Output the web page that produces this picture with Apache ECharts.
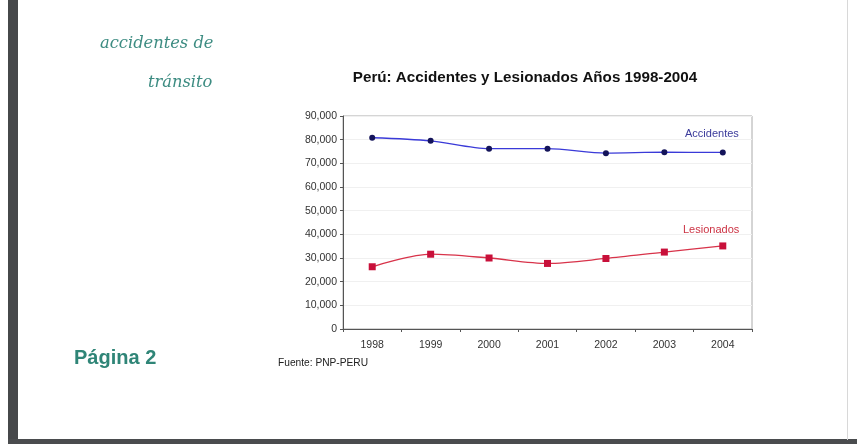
<!DOCTYPE html>
<html><head><meta charset="utf-8">
<script src="https://cdn.jsdelivr.net/npm/echarts@6/dist/echarts.min.js"></script>
<style>html,body{margin:0;padding:0;background:#fff}#c{width:857px;height:444px}</style>
</head><body><div id="c"></div>
<script>
const years = ['1998','1999','2000','2001','2002','2003','2004'];
const accidentes = [80800, 79500, 76200, 76200, 74300, 74700, 74600];
const lesionados = [26300, 31600, 30000, 27700, 29800, 32500, 35100];
const yTicks = {min: 0, max: 90000, interval: 10000};

const chart = echarts.init(document.getElementById('c'));
const F = '"Liberation Sans", Arial, sans-serif';
chart.setOption({
  animation: false,
  backgroundColor: '#ffffff',
  title: {
    text: 'Perú: Accidentes y Lesionados Años 1998-2004',
    left: 520, top: 65, textAlign: 'center',
    textStyle: {fontFamily: F, fontSize: 15.2, fontWeight: 'bold', color: '#111'}
  },
  grid: {left: 343, top: 116, right: 105, bottom: 115, show: true, borderColor: '#aaa', borderWidth: 1, backgroundColor: 'transparent'},
  xAxis: {
    type: 'category', data: years, boundaryGap: true,
    axisLine: {lineStyle: {color: '#555'}},
    axisTick: {show: true, lineStyle: {color: '#555'}, length: 3},
    axisLabel: {fontFamily: F, fontSize: 10.5, color: '#333', margin: 11},
    splitLine: {show: false}
  },
  yAxis: {
    type: 'value', min: yTicks.min, max: yTicks.max, interval: yTicks.interval,
    axisLine: {show: true, lineStyle: {color: '#555'}},
    axisTick: {show: true, lineStyle: {color: '#555'}, length: 3},
    axisLabel: {fontFamily: F, fontSize: 10.5, color: '#333', margin: 6,
      formatter: v => v.toLocaleString('en-US')},
    splitLine: {show: true, lineStyle: {color: '#f0f0f0'}}
  },
  series: [
    {name: 'Accidentes', type: 'line', data: accidentes, smooth: 0.3,
     symbol: 'circle', symbolSize: 6,
     lineStyle: {color: '#3a3ad8', width: 1.3},
     itemStyle: {color: '#14145a'}},
    {name: 'Lesionados', type: 'line', data: lesionados, smooth: 0.3,
     symbol: 'rect', symbolSize: 7,
     lineStyle: {color: '#d8334a', width: 1.3},
     itemStyle: {color: '#c8103a'}}
  ],
  graphic: [
    {type: 'rect', shape: {x: 8, y: 0, width: 10, height: 444}, style: {fill: '#46484a'}},
    {type: 'rect', shape: {x: 8, y: 439, width: 849, height: 5}, style: {fill: '#4a4c4e'}},
    {type: 'rect', shape: {x: 847, y: 0, width: 1, height: 440}, style: {fill: '#d8d8d8'}},
    {type: 'text', left: 100, top: 36, style: {text: 'accidentes de', font: 'italic 16.3px "DejaVu Serif", "Liberation Serif", serif', fill: '#3d8c82'}},
    {type: 'text', left: 148, top: 75, style: {text: 'tránsito', font: 'italic 16.3px "DejaVu Serif", "Liberation Serif", serif', fill: '#3d8c82'}},
    {type: 'text', left: 74, top: 348, style: {text: 'Página 2', font: 'bold 20px "Liberation Sans", Arial, sans-serif', fill: '#2f8577'}},
    {type: 'text', left: 278, top: 358, style: {text: 'Fuente: PNP-PERU', font: '10.2px "Liberation Sans", Arial, sans-serif', fill: '#222'}},
    {type: 'text', left: 685, top: 128, style: {text: 'Accidentes', font: '11px "Liberation Sans", Arial, sans-serif', fill: '#3a3a9a'}},
    {type: 'text', left: 683, top: 224, style: {text: 'Lesionados', font: '11px "Liberation Sans", Arial, sans-serif', fill: '#cc3344'}}
  ]
});
</script></body></html>
